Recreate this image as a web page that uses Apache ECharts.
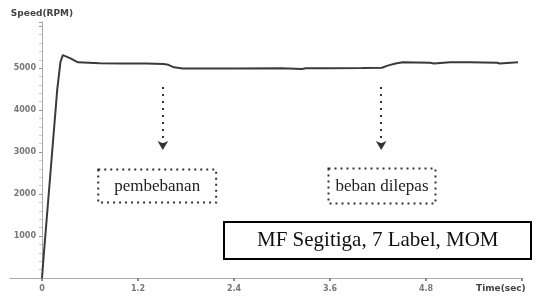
<!DOCTYPE html>
<html>
<head>
<meta charset="utf-8">
<script src="https://cdn.jsdelivr.net/npm/echarts@6/dist/echarts.min.js"></script>
<style>
html, body { margin: 0; padding: 0; background: #fff; }
#chart { width: 544px; height: 297px; }
</style>
</head>
<body>
<div id="chart"></div>
<script>
var timeSec = [0, 0.02, 0.19, 0.23, 0.26, 0.35, 0.45, 0.72, 1.0, 1.3, 1.52, 1.54, 1.58, 1.65, 1.76, 2.4, 3.0, 3.25, 3.3, 3.6, 4.0, 4.25, 4.32, 4.42, 4.51, 4.85, 4.9, 5.1, 5.35, 5.69, 5.72, 5.95];
var speedRpm = [0, 500, 4480, 5140, 5310, 5240, 5140, 5120, 5110, 5110, 5100, 5070, 5080, 5020, 4990, 4990, 4995, 4980, 5000, 5000, 5005, 5010, 5060, 5110, 5140, 5130, 5110, 5140, 5140, 5130, 5110, 5140];

var xTicks = [0, 1.2, 2.4, 3.6, 4.8, 6.0];
var xLabels = [0, 1.2, 2.4, 3.6, 4.8];
var yLabels = [1000, 2000, 3000, 4000, 5000];

var arrowAt = [1.51, 4.24];
var arrowFrom = 4550;
var arrowTo = 3050;

var notes = [
  {name: 'pembebanan', t: 1.44, v: 2190, pad: [8, 16, 8, 16]},
  {name: 'beban dilepas', t: 4.25, v: 2190, pad: [9, 7, 9, 7]}
];
var caption = 'MF Segitiga, 7 Label, MOM';

var chart = echarts.init(document.getElementById('chart'));

var axisGrey = '#aaa';
var lblStyle = {fontFamily: 'DejaVu Sans', fontWeight: 'bold', fontSize: 8, color: '#777'};

option = {
  animation: false,
  title: {
    text: caption,
    left: 224,
    top: 222,
    padding: [8, 33, 8, 33],
    borderColor: '#000',
    borderWidth: 2,
    textStyle: {fontFamily: 'Liberation Serif', fontWeight: 'normal', fontSize: 21, color: '#111'}
  },
  grid: {left: 10, right: 22, top: 22, bottom: 19, outerBoundsMode: 'none', containLabel: false},
  xAxis: {
    type: 'value',
    min: -0.4,
    max: 6,
    name: 'Time(sec)',
    nameLocation: 'end',
    nameGap: -46,
    nameTextStyle: {fontFamily: 'DejaVu Sans', fontWeight: 'bold', fontSize: 9, color: '#444', verticalAlign: 'top', padding: [6, 0, 0, 0]},
    axisLine: {onZero: false, lineStyle: {color: axisGrey, width: 1}},
    axisTick: {show: true, customValues: xTicks, length: 3, inside: false, lineStyle: {color: '#888', width: 2}},
    axisLabel: Object.assign({customValues: xLabels, margin: 7, formatter: function (v) { return v === 0 ? '0' : v.toFixed(1); }}, lblStyle),
    splitLine: {show: false}
  },
  yAxis: {
    type: 'value',
    min: 0,
    max: 6100,
    interval: 1000,
    offset: -32,
    name: 'Speed(RPM)',
    nameLocation: 'end',
    nameGap: 4,
    nameTextStyle: {fontFamily: 'DejaVu Sans', fontWeight: 'bold', fontSize: 9, color: '#444'},
    axisLine: {onZero: false, lineStyle: {color: axisGrey, width: 1}},
    axisTick: {show: true, length: 3, lineStyle: {color: '#999'}},
    minorTick: {show: true, splitNumber: 5, length: 3, lineStyle: {color: '#ccc'}},
    axisLabel: Object.assign({margin: 6, formatter: function (v) { return yLabels.indexOf(v) >= 0 ? String(v) : ''; }}, lblStyle),
    splitLine: {show: false}
  },
  series: [
    {
      type: 'line',
      data: timeSec.map(function (t, i) { return [t, speedRpm[i]]; }),
      showSymbol: false,
      lineStyle: {color: '#3a3a3a', width: 2},
      markLine: {
        silent: true,
        symbol: ['none', 'arrow'],
        symbolSize: [8, 9],
        label: {show: false},
        lineStyle: {color: '#333', width: 2, type: [2, 5]},
        data: arrowAt.map(function (t) { return [{coord: [t, arrowFrom]}, {coord: [t, arrowTo]}]; })
      },
      markPoint: {
        silent: true,
        symbol: 'rect',
        symbolSize: 1,
        itemStyle: {color: 'rgba(0,0,0,0)'},
        data: notes.map(function (n) {
          return {
            coord: [n.t, n.v],
            label: {
              show: true,
              position: 'inside',
              formatter: n.name,
              padding: n.pad,
              borderColor: '#333',
              borderWidth: 2,
              borderType: [2, 4],
              fontFamily: 'Liberation Serif',
              fontSize: 17,
              color: '#222'
            }
          };
        })
      }
    }
  ]
};
chart.setOption(option);

window.addEventListener('resize', function () {
  chart.resize();
});
</script>
</body>
</html>
